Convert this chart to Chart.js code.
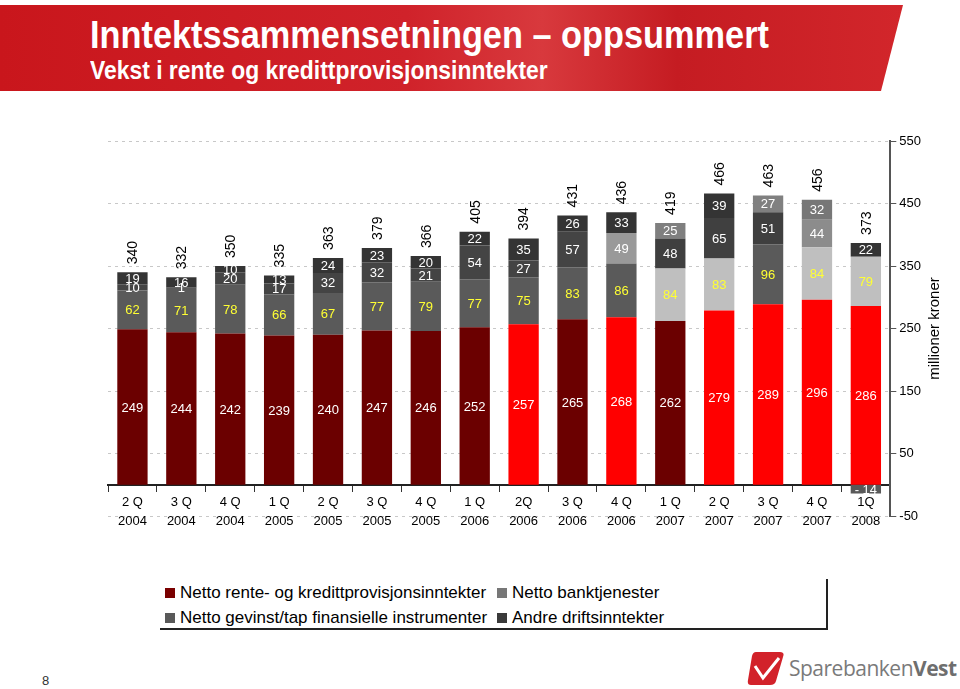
<!DOCTYPE html>
<html lang="no">
  <head>
    <meta charset="UTF-8" />
    <title>Inntektssammensetningen</title>
    <style>
      body {
        margin: 0;
        width: 960px;
        height: 689px;
        overflow: hidden;
        background: #fff;
        font-family: "Liberation Sans", Arial, sans-serif;
        position: relative;
      }
      .banner {
        position: absolute;
        left: 0;
        top: 5px;
        width: 903px;
        height: 86px;
        background: linear-gradient(90deg, #c9161c 0%, #d0222a 45%, #d8393d 60%, #c51c22 75%, #d2262b 100%);
        clip-path: polygon(0 0, 903px 0, 881px 100%, 0 100%);
      }
      .title,
      .subtitle {
        position: absolute;
        left: 90px;
        color: #fff;
        font-family: "Liberation Sans", Arial, sans-serif;
        font-weight: bold;
        white-space: nowrap;
        transform-origin: left top;
        transform: scaleX(0.88);
      }
      .title {
        top: 13px;
        font-size: 39px;
      }
      .subtitle {
        top: 55px;
        font-size: 26px;
      }
      .chartBox {
        position: absolute;
        left: 0;
        top: 120px;
        width: 960px;
        height: 420px;
      }
      .legend {
        position: absolute;
        left: 158px;
        top: 577px;
        width: 668px;
        height: 51px;
        background: #fff;
        box-shadow: 2px 2px 0 #222;
        font-size: 17px;
        color: #000;
      }
      .legend .item {
        position: absolute;
        white-space: nowrap;
        line-height: 19px;
      }
      .legend .sq {
        display: inline-block;
        width: 10px;
        height: 10px;
        margin-right: 5px;
        vertical-align: 0px;
      }
      .pageNo {
        position: absolute;
        left: 42px;
        top: 673px;
        font-size: 13px;
        color: #333;
      }
      .logo {
        position: absolute;
        left: 746px;
        top: 648px;
        height: 40px;
        display: flex;
        align-items: center;
      }
      .logo span {
        font-family: "Open Sans", sans-serif;
        font-size: 21px;
        color: #7a7a7a;
        letter-spacing: -0.5px;
        margin-left: 3px;
      }
      .logo b {
        font-weight: 700;
        color: #6e6e6e;
      }
    </style>
    <script src="https://cdn.jsdelivr.net/npm/chart.js"></script>
  </head>
  <body>
    <div class="banner"></div>
    <div class="title">Inntektssammensetningen – oppsummert</div>
    <div class="subtitle">Vekst i rente og kredittprovisjonsinntekter</div>

    <div class="chartBox">
      <canvas id="inntektChart" width="960" height="420"></canvas>
    </div>

    <div class="legend" id="legend"></div>

    <div class="pageNo">8</div>
    <div class="logo">
      <svg width="40" height="38" viewBox="0 0 40 38">
        <path d="M10 3 L34 3 Q39 3 37 8 L30 32 Q29 36 24 36 L5 36 Q1 36 2 31 L6 7 Q7 3 10 3 Z" fill="#d2222a" />
        <path d="M9 17 L17 29 L33 9" stroke="#fff" stroke-width="3" fill="none" />
      </svg>
      <span>Sparebanken<b>Vest</b></span>
    </div>

    <script>
      // categories (quarter / year)
      const quarters = [
        ["2 Q", "2004"], ["3 Q", "2004"], ["4 Q", "2004"], ["1 Q", "2005"],
        ["2 Q", "2005"], ["3 Q", "2005"], ["4 Q", "2005"], ["1 Q", "2006"],
        ["2Q", "2006"], ["3 Q", "2006"], ["4 Q", "2006"], ["1 Q", "2007"],
        ["2 Q", "2007"], ["3 Q", "2007"], ["4 Q", "2007"], ["1Q", "2008"],
      ];

      // series values (millioner kroner)
      const renteInntekter = [249, 244, 242, 239, 240, 247, 246, 252, 257, 265, 268, 262, 279, 289, 296, 286];
      const banktjenester = [62, 71, 78, 66, 67, 77, 79, 77, 75, 83, 86, 84, 83, 96, 84, 79];
      const finansielleInstr = [10, 1, 20, 17, 32, 32, 21, 54, 27, 57, 49, 48, 65, 51, 44, -14];
      const andreInntekter = [19, 16, 10, 13, 24, 23, 20, 22, 35, 26, 33, 25, 39, 27, 32, 22];
      const totals = [340, 332, 350, 335, 363, 379, 366, 405, 394, 431, 436, 419, 466, 463, 456, 373];

      const yTicks = [-50, 50, 150, 250, 350, 450, 550];

      const seriesNames = [
        "Netto rente- og kredittprovisjonsinntekter",
        "Netto banktjenester",
        "Netto gevinst/tap finansielle instrumenter",
        "Andre driftsinntekter",
      ];

      // each bar is shaded on its own in the original slide
      const DR = "#6b0000", RD = "#ff0000";
      const renteColors = [DR, DR, DR, DR, DR, DR, DR, DR, RD, DR, RD, DR, RD, RD, RD, RD];
      const G5 = "#5a5a5a", LG = "#bfbfbf";
      const bankColors = [G5, G5, G5, G5, G5, G5, G5, G5, G5, G5, G5, LG, LG, G5, LG, LG];
      const G4 = "#444444";
      const finColors = [G4, G4, G4, G4, G4, G4, G4, G4, G4, G4, "#999999", "#3f3f3f", "#404040", "#3f3f3f", "#8c8c8c", "#595959"];
      const G3 = "#343434";
      const andreColors = [G3, G3, G3, G3, G3, G3, G3, G3, G3, G3, G3, "#7f7f7f", G3, "#808080", "#777777", G3];

      const legendColors = ["#7a0000", "#777777", "#595959", "#3a3a3a"];
      const labelColors = ["#ffffff", "#ffff33", "#ffffff", "#ffffff"];

      // legend (two columns, like the slide)
      const legendEl = document.getElementById("legend");
      const legendPos = [[7, 6], [339, 6], [7, 31], [339, 31]];
      seriesNames.forEach(function (name, i) {
        const div = document.createElement("div");
        div.className = "item";
        div.style.left = legendPos[i][0] + "px";
        div.style.top = legendPos[i][1] + "px";
        div.innerHTML = '<span class="sq" style="background:' + legendColors[i] + '"></span>' + name;
        legendEl.appendChild(div);
      });

      // draws the numbers inside segments, the rotated totals and the axis title
      const labelPlugin = {
        id: "barLabels",
        afterDatasetsDraw(chart) {
          const ctx = chart.ctx;
          ctx.save();
          ctx.font = '13px "Liberation Sans", Arial, sans-serif';
          ctx.textAlign = "center";
          ctx.textBaseline = "middle";
          chart.data.datasets.forEach(function (ds, di) {
            const meta = chart.getDatasetMeta(di);
            meta.data.forEach(function (bar, j) {
              const v = ds.data[j];
              ctx.fillStyle = labelColors[di];
              const txt = v < 0 ? "- " + Math.abs(v) : String(v);
              ctx.fillText(txt, bar.x, (bar.y + bar.base) / 2 + 1);
            });
          });

          // totals, rotated, above the top segment
          ctx.fillStyle = "#000";
          ctx.font = '14px "Liberation Sans", Arial, sans-serif';
          ctx.textAlign = "left";
          totals.forEach(function (t, j) {
            let top = Infinity, x = 0;
            chart.data.datasets.forEach(function (ds, di) {
              const bar = chart.getDatasetMeta(di).data[j];
              x = bar.x;
              if (ds.data[j] > 0) top = Math.min(top, bar.y);
            });
            ctx.save();
            ctx.translate(x + 1, top - 8);
            ctx.rotate(-Math.PI / 2);
            ctx.fillText(String(t), 0, 0);
            ctx.restore();
          });

          // y axis title, reading bottom to top
          const ys = chart.scales.y;
          ctx.font = '15px "Liberation Sans", Arial, sans-serif';
          ctx.textAlign = "center";
          ctx.save();
          ctx.translate(ys.right + 11, (ys.top + ys.bottom) / 2);
          ctx.rotate(-Math.PI / 2);
          ctx.fillText("millioner kroner", 0, 0);
          ctx.restore();
          ctx.restore();
        },
      };

      const ctx = document.getElementById("inntektChart").getContext("2d");
      new Chart(ctx, {
        type: "bar",
        data: {
          labels: quarters,
          datasets: [
            { label: seriesNames[0], data: renteInntekter, backgroundColor: renteColors },
            { label: seriesNames[1], data: banktjenester, backgroundColor: bankColors },
            { label: seriesNames[2], data: finansielleInstr, backgroundColor: finColors },
            { label: seriesNames[3], data: andreInntekter, backgroundColor: andreColors },
          ],
        },
        options: {
          responsive: false,
          animation: false,
          devicePixelRatio: 1,
          layout: { padding: { left: 108, top: 21, bottom: 24, right: 36 } },
          datasets: { bar: { barPercentage: 0.62, categoryPercentage: 1 } },
          plugins: {
            legend: { display: false },
            tooltip: { enabled: false },
          },
          scales: {
            x: {
              stacked: true,
              position: { y: 0 },
              grid: {
                drawOnChartArea: false,
                drawTicks: true,
                tickLength: 6,
                tickColor: "#333",
                offset: true,
              },
              border: { display: true, color: "#222", width: 2 },
              ticks: {
                color: "#000",
                font: { size: 13, lineHeight: 1.45 },
                maxRotation: 0,
                autoSkip: false,
                padding: 2,
              },
            },
            y: {
              stacked: true,
              position: "right",
              min: -50,
              max: 550,
              afterBuildTicks(scale) {
                scale.ticks = yTicks.map(function (v) { return { value: v }; });
              },
              grid: {
                color: "#c8c8c8",
                tickColor: "#555",
                tickLength: 6,
                lineWidth: 1,
              },
              border: { display: true, color: "#555", width: 2, dash: [3, 4] },
              ticks: { color: "#000", font: { size: 13 }, padding: 3 },
            },
          },
        },
        plugins: [labelPlugin],
      });
    </script>
  </body>
</html>
